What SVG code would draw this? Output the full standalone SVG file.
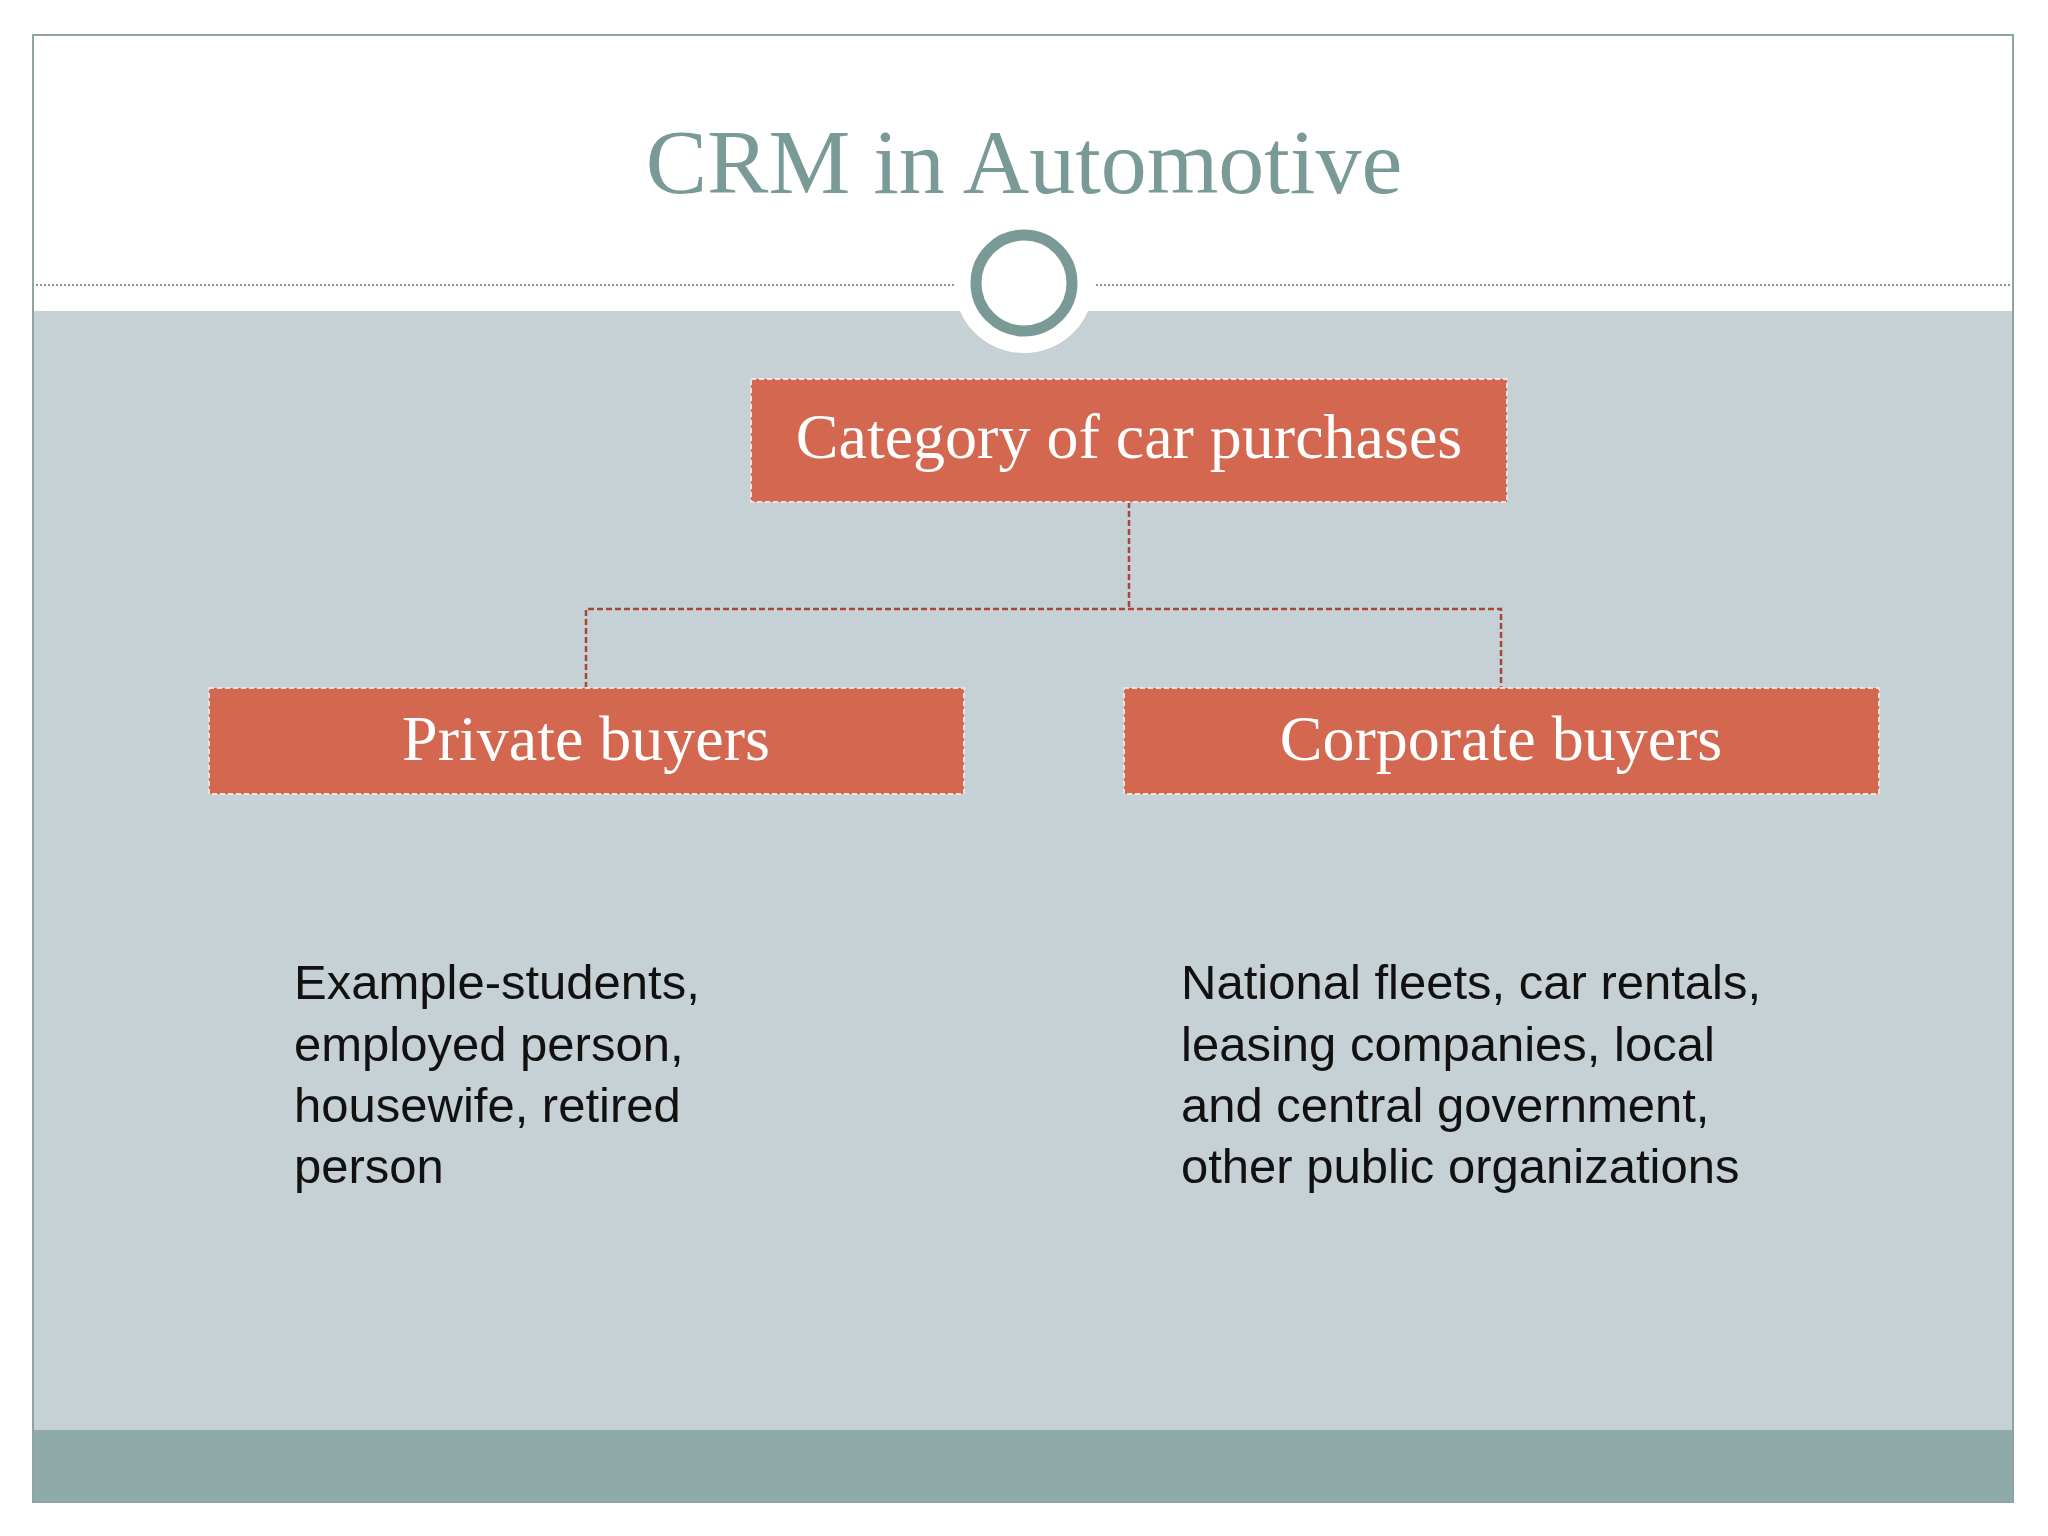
<svg xmlns="http://www.w3.org/2000/svg" width="2048" height="1536" viewBox="0 0 2048 1536">
<style>
.box{fill:#d4674f;stroke:#f3e0da;stroke-width:2;stroke-dasharray:5 3}
.bt{font-family:"Liberation Serif","DejaVu Serif",serif;fill:#fff;text-anchor:middle}
.body{font-family:"Liberation Sans",Arial,sans-serif;font-size:49px;fill:#111}
.conn{fill:none;stroke:#a8463a;stroke-width:2.5;stroke-dasharray:6 3}
</style>
<rect width="2048" height="1536" fill="#fff"/>
<rect x="33" y="311" width="1980" height="1119" fill="#c5d1d5"/>
<rect x="33" y="1430" width="1980" height="72" fill="#8eaaa9"/>
<rect x="33" y="35" width="1980" height="1467" fill="none" stroke="#8fa5a5" stroke-width="2"/>
<line x1="36" y1="285" x2="2010" y2="285" stroke="#8a9a9a" stroke-width="2" stroke-dasharray="2 2"/>
<circle cx="1024" cy="283" r="70" fill="#fff"/>
<circle cx="1024" cy="283" r="48" fill="none" stroke="#7a9a98" stroke-width="11"/>
<text x="1024" y="193" font-family="Liberation Serif,serif" font-size="92" fill="#7a9a98" text-anchor="middle">CRM in Automotive</text>
<g id="connectors">
<path class="conn" d="M1129 502V609M586 688V609H1501V688"/>
</g>
<g id="top"><rect class="box" x="751" y="379" width="756" height="123"/><text class="bt" x="1129" y="458" font-size="64">Category of car purchases</text></g>
<g id="private"><rect class="box" x="209" y="688" width="755" height="106"/><text class="bt" x="586" y="760" font-size="64">Private buyers</text></g>
<g id="corporate"><rect class="box" x="1124" y="688" width="755" height="106"/><text class="bt" x="1501" y="760" font-size="64">Corporate buyers</text></g>
<g id="privtext" class="body"><text x="294" y="999">Example-students,</text><text x="294" y="1061">employed person,</text><text x="294" y="1122">housewife, retired</text><text x="294" y="1183">person</text></g>
<g id="corptext" class="body"><text x="1181" y="999">National fleets, car rentals,</text><text x="1181" y="1061">leasing companies, local</text><text x="1181" y="1122">and central government,</text><text x="1181" y="1183">other public organizations</text></g>
</svg>
